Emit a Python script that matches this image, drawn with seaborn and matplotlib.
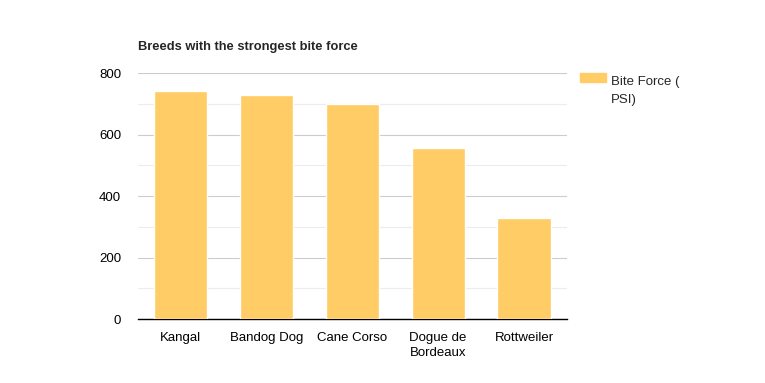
import matplotlib
matplotlib.use("Agg")
import matplotlib.pyplot as plt
import pandas as pd
import seaborn as sns
from matplotlib.ticker import MultipleLocator
from matplotlib.patches import Rectangle

# data
racas = ["Kangal", "Bandog Dog", "Cane Corso", "Dogue de\nBordeaux", "Rottweiler"]
forca_mordida = [743, 730, 700, 556, 328]
nome_serie = "Bite Force (\nPSI)"
titulo = "Breeds with the strongest bite force"

cor_barra = "#FFCC66"

sns.set_style("white")
plt.rcParams["font.family"] = ["Liberation Sans", "DejaVu Sans"]

df = pd.DataFrame({"Raca": racas, "Forca": forca_mordida})

fig = plt.figure(figsize=(7.65, 3.83), dpi=100)
ax = fig.add_axes([0.180, 0.167, 0.561, 0.642])

sns.barplot(data=df, x="Raca", y="Forca", color=cor_barra, saturation=1,
            width=0.62, ax=ax, zorder=3)

ax.set_ylim(0, 800)
ax.yaxis.set_major_locator(MultipleLocator(200))
ax.yaxis.set_minor_locator(MultipleLocator(100))
ax.grid(axis="y", which="major", color="#cccccc", linewidth=0.8, zorder=0)
ax.grid(axis="y", which="minor", color="#ececec", linewidth=0.8, zorder=0)
ax.set_axisbelow(True)

for lado in ["top", "right", "left"]:
    ax.spines[lado].set_visible(False)
ax.spines["bottom"].set_color("black")
ax.spines["bottom"].set_linewidth(1.0)

ax.set_xlabel("")
ax.set_ylabel("")
ax.tick_params(axis="both", which="both", length=0, labelsize=9.5, colors="black")
ax.tick_params(axis="x", pad=9)
ax.tick_params(axis="y", pad=12)
for rotulo in ax.get_xticklabels():
    rotulo.set_linespacing(1.4)

fig.text(0.180, 0.878, titulo, fontsize=9.3, fontweight="bold", ha="left", va="center")

# legenda feita a mao, como no grafico original
fig.patches.append(Rectangle((0.758, 0.786), 0.034, 0.0235, color=cor_barra,
                             transform=fig.transFigure, figure=fig))
fig.text(0.799, 0.801, nome_serie, fontsize=9.5, ha="left", va="top", linespacing=1.65)

fig.savefig("out.png", dpi=100)
